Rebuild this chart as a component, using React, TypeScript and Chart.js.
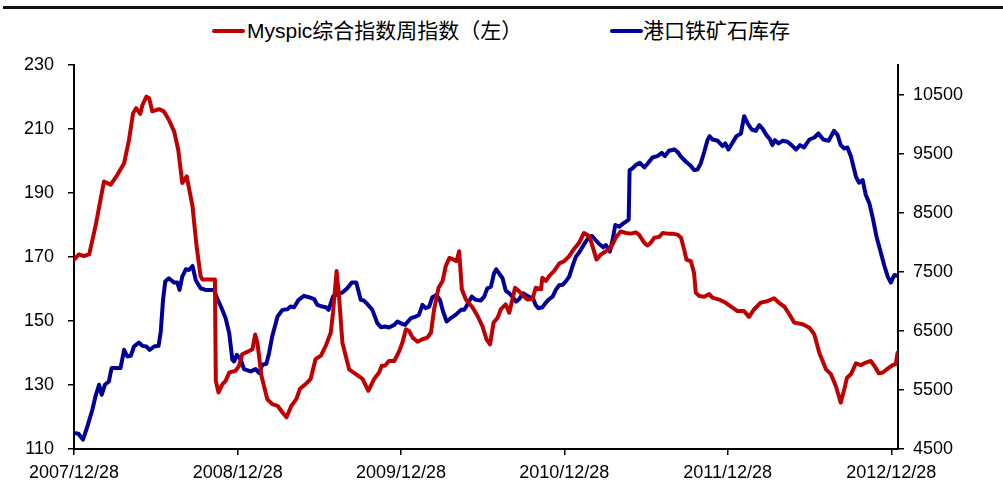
import React, { useEffect, useRef } from "react";
import { Chart, registerables } from "chart.js";

Chart.register(...registerables);

// Legend labels
const seriesNames = ["Myspic综合指数周指数（左）", "港口铁矿石库存"];
const seriesColors = ["#C00000", "#000099"];

// X axis: days since 2007/12/28, yearly tick labels
const xTickDays = [0, 366, 731, 1096, 1461, 1827];
const xTickLabels = ["2007/12/28", "2008/12/28", "2009/12/28", "2010/12/28", "2011/12/28", "2012/12/28"];
const xMaxDay = 1842;

// Left axis ticks
const leftMin = 110;
const leftMax = 230;
const leftStep = 20;

// Right axis ticks
const rightTicks = [4500, 5500, 6500, 7500, 8500, 9500, 10500];
const rightMin = 4500;
const rightMax = 11000;

// Myspic index (left axis)
const redDays = [0,11,22,34,48,67,82,97,112,123,132,139,148,153,162,168,175,190,201,212,224,233,242,252,265,274,283,287,315,317,323,332,339,347,361,369,376,391,399,405,410,419,432,443,455,466,475,486,497,505,518,529,540,552,563,574,579,587,593,600,615,630,645,658,671,682,688,695,704,716,727,734,742,749,757,768,779,790,798,805,815,824,831,839,846,855,861,867,876,891,902,913,922,930,938,947,954,965,973,980,986,995,1004,1014,1025,1032,1044,1047,1055,1062,1073,1085,1096,1107,1118,1129,1140,1152,1159,1168,1178,1189,1200,1211,1222,1234,1245,1256,1263,1275,1282,1289,1297,1308,1316,1327,1338,1349,1357,1364,1369,1379,1386,1390,1398,1409,1420,1427,1442,1457,1472,1483,1498,1509,1520,1535,1550,1565,1576,1588,1599,1610,1629,1644,1655,1666,1681,1692,1703,1714,1722,1728,1737,1748,1759,1770,1781,1789,1799,1808,1819,1830,1837,1841];
const redValues = [169.2,170.8,170.3,170.8,179.6,193.6,192.6,195.7,199.3,206.6,214.9,216.5,214.7,217.5,220.1,219.6,215.5,216.2,215.5,212.9,209.2,203.5,193.1,195.2,185.8,173.4,164.0,163.0,163.0,131.3,127.7,130.3,131.3,133.9,134.4,136.0,139.6,140.6,141.2,145.8,143.2,132.9,125.6,124.0,123.5,121.4,119.9,123.5,125.6,128.8,130.3,131.9,138.1,139.2,142.3,146.4,152.6,165.6,156.7,143.2,134.9,133.4,131.9,128.2,131.9,133.9,136.0,136.0,137.5,137.5,140.6,143.2,147.4,146.9,144.8,143.5,144.3,144.8,146.4,153.6,160.4,162.5,167.1,169.7,169.4,168.7,171.8,159.9,156.7,154.2,151.6,148.4,144.3,142.7,149.5,151.0,153.6,155.2,152.6,156.7,160.4,159.3,157.8,156.7,156.9,160.4,159.9,163.5,162.5,164.0,165.6,168.0,168.7,170.3,172.6,174.4,177.5,176.5,173.4,169.2,170.8,171.8,172.9,176.0,178.0,177.5,177.3,177.7,177.0,174.4,173.6,174.4,176.0,176.3,177.5,177.3,177.3,177.0,176.0,172.3,169.2,168.7,165.1,158.8,157.8,157.6,158.4,157.3,156.7,155.7,154.2,153.1,153.1,151.3,153.6,155.7,156.2,157.1,155.7,154.5,152.1,149.5,149.0,147.9,145.8,140.1,134.9,133.4,129.7,124.5,128.7,132.3,133.4,136.8,136.2,137.0,137.5,136.0,133.7,133.9,135.1,136.2,136.5,140.1];

// Port iron ore inventory (right axis)
const blueDays = [0,10,20,30,41,48,56,62,69,78,84,104,112,119,127,134,145,153,162,169,179,189,194,199,204,212,224,231,236,242,250,257,265,272,283,294,313,320,330,339,347,354,358,364,373,380,395,406,414,421,430,436,443,455,466,477,484,492,502,514,525,537,544,555,563,569,579,589,600,611,621,631,641,648,656,667,678,686,695,704,716,723,733,740,753,764,771,779,786,794,801,810,818,825,833,842,853,865,872,877,883,889,898,909,917,924,932,939,944,950,958,965,973,980,988,995,1004,1010,1019,1026,1032,1038,1047,1055,1062,1070,1077,1085,1092,1099,1107,1114,1122,1129,1137,1144,1152,1158,1166,1174,1183,1189,1198,1204,1210,1219,1226,1234,1240,1242,1248,1256,1265,1275,1284,1293,1304,1314,1321,1330,1342,1349,1357,1368,1379,1386,1394,1401,1409,1416,1421,1427,1439,1450,1456,1463,1472,1481,1491,1498,1506,1515,1524,1532,1539,1548,1556,1561,1567,1575,1584,1595,1604,1614,1623,1632,1644,1655,1664,1675,1687,1699,1707,1714,1722,1729,1737,1748,1755,1763,1770,1778,1785,1794,1804,1811,1819,1826,1834,1841];
const blueValues = [4770,4759,4658,4883,5165,5390,5587,5418,5587,5643,5869,5869,6179,6066,6077,6235,6303,6246,6235,6179,6235,6246,6489,7024,7334,7390,7317,7317,7193,7418,7542,7531,7598,7362,7221,7193,7193,7052,6883,6714,6460,6010,5982,6094,6010,5852,5813,5852,5785,5925,5942,6122,6404,6742,6855,6866,6911,6900,7024,7092,7069,7035,6939,6911,6900,6855,7080,7125,7148,7221,7317,7317,7024,7013,6951,6855,6630,6562,6573,6556,6601,6658,6618,6601,6714,6742,6770,6939,6883,6911,7069,7108,7024,6827,6658,6714,6770,6855,6855,6911,6996,7080,7024,7013,7080,7221,7249,7475,7542,7475,7390,7182,7136,7080,6996,7035,7136,7108,7069,7052,6939,6883,6900,6979,7035,7080,7193,7277,7277,7334,7418,7587,7756,7824,7925,8010,8094,8106,8038,7970,7914,7953,7841,8038,8292,8263,8308,8348,8387,9221,9249,9306,9345,9266,9345,9435,9458,9514,9458,9548,9570,9531,9447,9362,9289,9221,9232,9334,9531,9728,9796,9739,9717,9627,9672,9570,9683,9796,9841,10134,10010,9908,9886,9982,9925,9813,9739,9644,9728,9672,9717,9700,9644,9570,9644,9604,9739,9773,9841,9739,9717,9886,9813,9644,9587,9604,9447,9108,9007,9052,8799,8658,8432,8094,7813,7615,7418,7317,7446,7429];

const FONT = "'Liberation Sans', Arial, 'Noto Sans CJK SC', sans-serif";

export default function App() {
  const canvasRef = useRef<HTMLCanvasElement | null>(null);

  useEffect(() => {
    const canvas = canvasRef.current;
    if (!canvas) return;
    const toPoints = (xs: number[], ys: number[]) => xs.map((x, i) => ({ x, y: ys[i] }));
    const tickFont = { family: FONT, size: 18 };
    const chart = new Chart(canvas, {
      type: "line",
      data: {
        datasets: [
          {
            label: seriesNames[0],
            data: toPoints(redDays, redValues),
            borderColor: seriesColors[0],
            backgroundColor: seriesColors[0],
            borderWidth: 4,
            pointRadius: 0,
            tension: 0,
            borderJoinStyle: "round",
            borderCapStyle: "round",
            yAxisID: "y",
          },
          {
            label: seriesNames[1],
            data: toPoints(blueDays, blueValues),
            borderColor: seriesColors[1],
            backgroundColor: seriesColors[1],
            borderWidth: 4,
            pointRadius: 0,
            tension: 0,
            borderJoinStyle: "round",
            borderCapStyle: "round",
            yAxisID: "y1",
          },
        ],
      },
      options: {
        responsive: false,
        maintainAspectRatio: false,
        animation: false,
        layout: { padding: { top: 65, left: 0, right: 0, bottom: 0 } },
        plugins: {
          legend: { display: false },
          tooltip: { enabled: false },
          title: { display: false },
        },
        scales: {
          x: {
            type: "linear",
            position: "bottom",
            min: 0,
            max: xMaxDay,
            afterBuildTicks: (scale: any) => {
              scale.ticks = xTickDays.map((v) => ({ value: v }));
            },
            afterFit: (scale: any) => {
              scale.height = 42;
            },
            ticks: {
              autoSkip: false,
              maxRotation: 0,
              minRotation: 0,
              color: "#000",
              font: tickFont,
              padding: 7,
              callback: (_v: any, i: number) => xTickLabels[i],
            },
            grid: {
              drawOnChartArea: false,
              drawTicks: true,
              tickLength: 6,
              color: "#000",
              lineWidth: 1.5,
            },
            border: { display: true, color: "#000", width: 2 },
          },
          y: {
            type: "linear",
            position: "left",
            min: leftMin,
            max: leftMax,
            afterFit: (scale: any) => {
              scale.width = 74;
            },
            ticks: {
              stepSize: leftStep,
              color: "#000",
              font: tickFont,
              padding: 14,
            },
            grid: {
              drawOnChartArea: false,
              drawTicks: true,
              tickLength: 6,
              color: "#000",
              lineWidth: 1.5,
            },
            border: { display: true, color: "#000", width: 2 },
          },
          y1: {
            type: "linear",
            position: "right",
            min: rightMin,
            max: rightMax,
            afterBuildTicks: (scale: any) => {
              scale.ticks = rightTicks.map((v) => ({ value: v }));
            },
            afterFit: (scale: any) => {
              scale.width = 105;
            },
            ticks: {
              color: "#000",
              font: tickFont,
              padding: 9,
              callback: (v: any) => String(v),
            },
            grid: {
              drawOnChartArea: false,
              drawTicks: true,
              tickLength: 6,
              color: "#000",
              lineWidth: 1.5,
            },
            border: { display: true, color: "#000", width: 2 },
          },
        },
      },
    } as any);
    return () => chart.destroy();
  }, []);

  const legendItem = (i: number, swatchLeft: number, textLeft: number) => (
    <React.Fragment key={i}>
      <div
        style={{
          position: "absolute",
          left: swatchLeft,
          top: 29,
          width: 33,
          height: 4,
          borderRadius: 2,
          background: seriesColors[i],
        }}
      />
      <div
        style={{
          position: "absolute",
          left: textLeft,
          top: 18,
          height: 26,
          lineHeight: "26px",
          fontSize: 21,
          fontFamily: FONT,
          color: "#000",
          whiteSpace: "nowrap",
        }}
      >
        {seriesNames[i]}
      </div>
    </React.Fragment>
  );

  return (
    <div
      style={{
        position: "fixed",
        left: 0,
        top: 0,
        width: 1003,
        height: 491,
        background: "#fff",
        overflow: "hidden",
      }}
    >
      <div style={{ position: "absolute", left: 3, top: 6, width: 1000, height: 3, background: "#111" }} />
      {legendItem(0, 212, 247)}
      {legendItem(1, 610, 643)}
      <canvas
        ref={canvasRef}
        width={1003}
        height={491}
        style={{ position: "absolute", left: 0, top: 0, width: 1003, height: 491 }}
      />
    </div>
  );
}
